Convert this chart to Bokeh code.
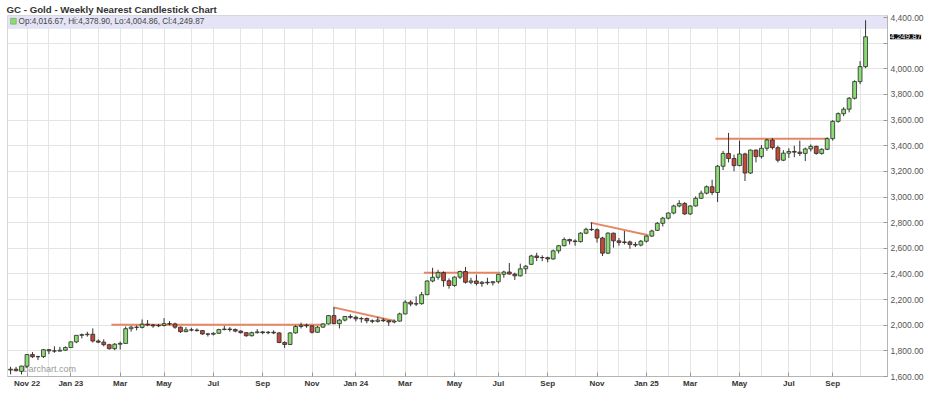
import pandas as pd
from bokeh.plotting import figure
from bokeh.models import (ColumnDataSource, Range1d, FixedTicker, NumeralTickFormatter,
                          BoxAnnotation, Label)
from bokeh.embed import file_html
from bokeh.resources import INLINE

# ---------------- data (weekly GC nearest futures) ----------------
first_week = "2022-10-17"
opens = [1650, 1657, 1640, 1680, 1771, 1754, 1755, 1809, 1800, 1798,
         1805, 1826, 1870, 1921, 1926, 1930, 1877, 1868, 1848, 1817,
         1852, 1858, 1973, 1985, 1983, 2008, 2002, 1995, 1998, 2012,
         2010, 1985, 1950, 1964, 1962, 1958, 1932, 1930, 1937, 1966,
         1970, 1966, 1954, 1942, 1918, 1942, 1948, 1942, 1945, 1940,
         1865, 1850, 1940, 1990, 2000, 1995, 1945, 1985, 2010, 2075,
         2012, 2040, 2068, 2062, 2050, 2052, 2035, 2030, 2040, 2035,
         2025, 2032, 2088, 2180, 2165, 2168, 2238, 2345, 2374, 2410,
         2347, 2310, 2375, 2419, 2335, 2345, 2325, 2335, 2331, 2339,
         2397, 2415, 2399, 2385, 2440, 2475, 2540, 2528, 2527, 2517,
         2580, 2620, 2668, 2657, 2652, 2718, 2748, 2745, 2680, 2562,
         2718, 2658, 2645, 2650, 2630, 2625, 2655, 2695, 2740, 2795,
         2835, 2875, 2930, 2950, 2868, 2930, 2990, 3030, 3080, 3035,
         3240, 3340, 3300, 3245, 3336, 3187, 3366, 3315, 3380, 3445,
         3385, 3287, 3342, 3355, 3350, 3340, 3375, 3395, 3340, 3372,
         3455, 3590, 3650, 3685, 3770, 3900, 4016.67]
highs = [1676, 1675, 1684, 1775, 1790, 1762, 1815, 1815, 1835, 1832,
         1835, 1872, 1922, 1935, 1949, 1975, 1890, 1890, 1855, 1860,
         1872, 1990, 1995, 1998, 2045, 2040, 2010, 2010, 2055, 2032,
         2020, 1990, 1985, 1980, 1975, 1962, 1940, 1945, 1972, 1995,
         1985, 1975, 1960, 1945, 1950, 1970, 1955, 1955, 1960, 1945,
         1875, 1945, 2000, 2020, 2012, 2000, 1995, 2015, 2080, 2140,
         2050, 2072, 2085, 2075, 2065, 2060, 2045, 2065, 2055, 2040,
         2045, 2098, 2195, 2195, 2225, 2260, 2350, 2448, 2432, 2420,
         2365, 2380, 2425, 2455, 2370, 2395, 2345, 2370, 2345, 2400,
         2425, 2485, 2410, 2480, 2470, 2550, 2565, 2545, 2535, 2590,
         2625, 2685, 2675, 2670, 2725, 2760, 2802, 2755, 2690, 2725,
         2722, 2680, 2735, 2660, 2650, 2665, 2700, 2745, 2805, 2845,
         2880, 2940, 2975, 2960, 2935, 3005, 3050, 3090, 3135, 3250,
         3360, 3500, 3330, 3440, 3345, 3370, 3370, 3405, 3455, 3460,
         3400, 3365, 3380, 3400, 3440, 3385, 3410, 3400, 3380, 3465,
         3600, 3660, 3700, 3780, 3910, 4060, 4378.90]
lows = [1617, 1640, 1616, 1666, 1745, 1728, 1744, 1775, 1785, 1795,
        1800, 1827, 1860, 1897, 1911, 1865, 1860, 1835, 1810, 1805,
        1810, 1858, 1950, 1960, 1975, 1992, 1980, 1985, 1990, 2000,
        1972, 1940, 1945, 1952, 1950, 1925, 1912, 1920, 1932, 1960,
        1950, 1945, 1935, 1910, 1912, 1935, 1930, 1930, 1930, 1860,
        1823, 1845, 1935, 1975, 1980, 1935, 1940, 1980, 2005, 2008,
        1975, 2030, 2050, 2030, 2020, 2015, 2015, 2020, 2025, 1995,
        2015, 2028, 2085, 2148, 2150, 2160, 2235, 2335, 2355, 2300,
        2285, 2300, 2360, 2325, 2320, 2310, 2300, 2315, 2310, 2325,
        2370, 2395, 2353, 2380, 2400, 2470, 2500, 2500, 2490, 2510,
        2560, 2615, 2630, 2620, 2645, 2710, 2735, 2645, 2540, 2555,
        2605, 2620, 2630, 2596, 2610, 2615, 2645, 2690, 2735, 2770,
        2825, 2865, 2920, 2860, 2860, 2925, 2985, 3020, 3015, 2960,
        3210, 3270, 3200, 3240, 3125, 3180, 3270, 3300, 3360, 3370,
        3270, 3280, 3305, 3310, 3320, 3280, 3355, 3330, 3330, 3365,
        3440, 3580, 3630, 3660, 3760, 3880, 4004.86]
closes = [1657, 1645, 1681, 1771, 1754, 1755, 1809, 1800, 1798, 1805,
          1826, 1870, 1921, 1926, 1930, 1877, 1868, 1848, 1817, 1852,
          1858, 1973, 1985, 1983, 2008, 2002, 1995, 1998, 2012, 2010,
          1985, 1950, 1964, 1962, 1958, 1932, 1930, 1937, 1966, 1970,
          1966, 1954, 1942, 1918, 1942, 1948, 1942, 1945, 1940, 1865,
          1850, 1940, 1990, 2000, 1995, 1945, 1985, 2010, 2075, 2012,
          2040, 2068, 2062, 2050, 2052, 2035, 2030, 2040, 2035, 2025,
          2032, 2088, 2180, 2165, 2168, 2238, 2345, 2374, 2410, 2347,
          2310, 2375, 2419, 2335, 2345, 2325, 2335, 2331, 2339, 2397,
          2415, 2399, 2385, 2440, 2460, 2540, 2528, 2527, 2517, 2580,
          2620, 2668, 2657, 2652, 2718, 2748, 2745, 2680, 2562, 2718,
          2658, 2645, 2650, 2630, 2625, 2655, 2695, 2735, 2795, 2835,
          2875, 2930, 2950, 2868, 2930, 2990, 3030, 3080, 3035, 3240,
          3340, 3300, 3245, 3336, 3187, 3366, 3315, 3380, 3445, 3385,
          3287, 3342, 3355, 3350, 3340, 3375, 3395, 3340, 3372, 3455,
          3590, 3650, 3685, 3770, 3900, 4017, 4249.87]

price_ticks = list(range(1600, 4401, 200))

# drawn trend lines: (bar position, price) at both ends
trend_x0 = [18.4, 58.9, 75.4, 105.8, 128.6]
trend_y0 = [2003, 2139, 2410, 2800, 3455]
trend_x1 = [57.5, 69.9, 89.4, 116.4, 149.1]
trend_y1 = [2003, 2035, 2410, 2702, 3455]

title_text = "GC - Gold - Weekly Nearest Candlestick Chart"
watermark = "barchart.com"

# ---------------- derived ----------------
n = len(closes)
dates = pd.date_range(first_week, periods=n, freq="W-MON")
idx = list(range(n))

month_starts = []
prev = (dates[0].year, dates[0].month)
for i, d in enumerate(dates):
    key = (d.year, d.month)
    if key != prev:
        month_starts.append(i)
        prev = key

tick_idx = [i for i in month_starts if dates[i].month % 2 == 1]
tick_labels = {}
for k, i in enumerate(tick_idx):
    d = dates[i]
    if k == 0 or d.month == 1:
        tick_labels[i] = d.strftime("%b %y")
    else:
        tick_labels[i] = d.strftime("%b")

GREEN = "#8bdc72"
RED = "#c24a35"
src = ColumnDataSource(dict(
    x=idx, o=opens, h=highs, l=lows, c=closes,
    top=[max(a, b) for a, b in zip(opens, closes)],
    bottom=[min(a, b) for a, b in zip(opens, closes)],
    fill=[GREEN if c >= o else RED for o, c in zip(opens, closes)],
))

FONT = "Liberation Sans"

p = figure(width=934, height=396, x_range=Range1d(-0.56, 160.0),
           y_range=Range1d(1600, 4415.6), y_axis_location="right",
           output_backend="svg", toolbar_location=None,
           min_border_left=7, min_border_right=47, min_border_top=14,
           min_border_bottom=20, background_fill_color="white",
           border_fill_color="white")

p.title.text = title_text
p.title.text_font = FONT
p.title.text_font_size = "9.7px"
p.title.text_font_style = "bold"
p.title.text_color = "#333333"
p.title.align = "left"
p.title.standoff = 2
p.title.offset = -1

p.outline_line_color = "#d6d6d6"

# legend band
p.add_layout(BoxAnnotation(bottom=4314, top=4415.6, fill_color="#e4e4f6",
                           fill_alpha=1, line_color="#cfcfe6", line_width=1,
                           level="underlay"))

# grids
p.xgrid.ticker = FixedTicker(ticks=month_starts)
p.ygrid.ticker = FixedTicker(ticks=price_ticks)
p.xgrid.grid_line_color = "#e4e4e4"
p.ygrid.grid_line_color = "#e4e4e4"

# watermark
p.add_layout(Label(x=2.36, y=1662, text=watermark, text_font=FONT,
                   text_font_size="9px", text_color="#9a9a9a",
                   text_baseline="alphabetic", level="underlay"))

# trend lines
p.segment(trend_x0, trend_y0, trend_x1, trend_y1, line_color="#e4805c",
          line_width=2, line_alpha=0.95)

# candles
p.segment("x", "h", "x", "l", source=src, line_color="#333333", line_width=1)
p.vbar(x="x", width=0.7, top="top", bottom="bottom", fill_color="fill",
       line_color="#2a2a2a", line_width=0.8, source=src)

# legend contents
p.add_layout(BoxAnnotation(left=0.0, right=1.05, top=4394, bottom=4348,
                           fill_color=GREEN, fill_alpha=1,
                           line_color="#2f6b22", line_width=1))
legend_text = "Op:{:,.2f}, Hi:{:,.2f}, Lo:{:,.2f}, Cl:{:,.2f}".format(
    opens[-1], highs[-1], lows[-1], closes[-1])
p.add_layout(Label(x=1.45, y=4371, text=legend_text, text_font=FONT,
                   text_font_size="8.2px", text_color="#444444",
                   text_baseline="middle"))

# axes
xa = p.xaxis[0]
xa.ticker = FixedTicker(ticks=tick_idx)
xa.major_label_overrides = tick_labels
xa.major_label_text_font = FONT
xa.major_label_text_font_size = "8px"
xa.major_label_text_font_style = "bold"
xa.major_label_text_color = "#333333"
xa.axis_line_color = "#b5b5b5"
xa.major_tick_in = 4
xa.major_tick_out = 0
xa.major_tick_line_color = "#999999"
xa.minor_tick_line_color = None
xa.major_label_standoff = 2

ya = p.yaxis[0]
ya.ticker = FixedTicker(ticks=price_ticks)
ya.formatter = NumeralTickFormatter(format="0,0.00")
ya.major_label_overrides = {4200: ""}
ya.major_label_text_font = FONT
ya.major_label_text_font_size = "8.5px"
ya.major_label_text_color = "#555555"
ya.axis_line_color = "#b5b5b5"
ya.major_tick_in = 4
ya.major_tick_out = 0
ya.major_tick_line_color = "#999999"
ya.minor_tick_line_color = None
ya.major_label_standoff = 3

# last price marker: lives in the lower side panel (so it is not clipped to
# the frame) but is positioned in data coordinates next to the price axis
p.add_layout(Label(x=160.45, y=closes[-1], text="{:,.2f}".format(closes[-1]),
                   text_font=FONT, text_font_size="8px", text_color="white",
                   text_baseline="middle", background_fill_color="#111111",
                   background_fill_alpha=1), "below")

open("out.html", "w").write(file_html(p, INLINE))
